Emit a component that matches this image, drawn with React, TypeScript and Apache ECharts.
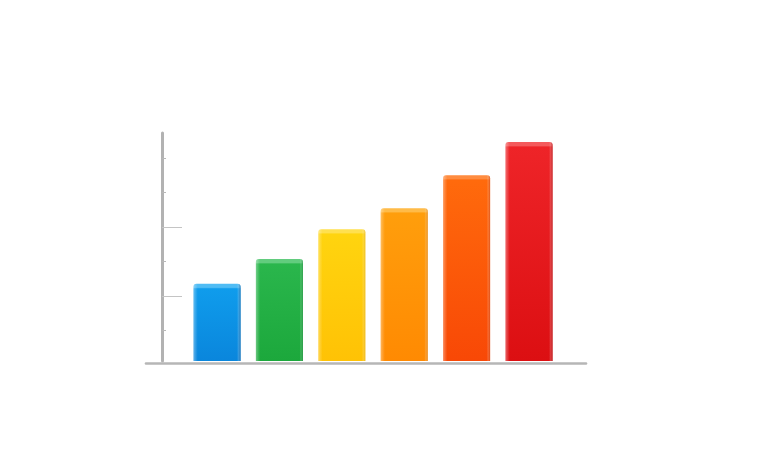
import React, { useEffect, useRef } from "react";
import * as echarts from "echarts";

const categories = ["A", "B", "C", "D", "E", "F"];
const values = [23.5, 30.7, 39.4, 45.5, 55.1, 64.7];
const majorTicks = [20, 40];
const minorTicks = [10, 30, 50, 60];
const topColors = ["#0f9cec", "#2ab64c", "#ffd40f", "#ff9e0c", "#ff6a0c", "#ee2428"];
const bottomColors = ["#0a86dc", "#1ca83c", "#ffc205", "#ff8a02", "#f84806", "#dc0f12"];
const capColors = ["#50bcf4", "#62cc7e", "#ffe04f", "#ffbb48", "#ff8c40", "#f45a5c"];
const edgeColors = ["rgba(4,90,160,0.75)", "rgba(14,125,45,0.55)", "rgba(225,170,20,0.6)", "rgba(215,125,20,0.6)", "rgba(200,60,10,0.6)", "rgba(170,10,12,0.7)"];

const axisMin = 1.08;
const axisMax = 67.35;
const gridHeight = 228;
const capHeight = 3.5;

function bodyGradient(i: number) {
  const barPx = ((values[i] - axisMin) / (axisMax - axisMin)) * gridHeight;
  const cap = capHeight / barPx;
  return new echarts.graphic.LinearGradient(0, 0, 0, 1, [
    { offset: 0, color: capColors[i] },
    { offset: cap, color: capColors[i] },
    { offset: cap * 1.4, color: topColors[i] },
    { offset: 1, color: bottomColors[i] },
  ]);
}

function edgeGradient(i: number) {
  return new echarts.graphic.LinearGradient(0, 0, 1, 0, [
    { offset: 0, color: "rgba(255,255,255,0.35)" },
    { offset: 0.05, color: "rgba(255,255,255,0.14)" },
    { offset: 0.09, color: "rgba(255,255,255,0)" },
    { offset: 0.93, color: "rgba(255,255,255,0)" },
    { offset: 1, color: edgeColors[i] },
  ]);
}

export default function App() {
  const ref = useRef<HTMLDivElement>(null);
  useEffect(() => {
    const chart = echarts.init(ref.current!, undefined, { renderer: "svg" });
    const yBase = {
      type: "value" as const,
      gridIndex: 0,
      position: "left" as const,
      min: axisMin,
      max: axisMax,
      offset: 23.8,
      axisLabel: { show: false },
      splitLine: { show: false },
    };
    chart.setOption({
      animation: false,
      backgroundColor: "#ffffff",
      grid: [
        { left: 185.8, width: 374.4, top: 133, height: gridHeight },
        { left: 146, width: 440, top: 133, height: 230.2 },
      ],
      xAxis: [
        {
          type: "category",
          gridIndex: 0,
          data: categories,
          axisLine: { show: false },
          axisTick: { show: false },
          axisLabel: { show: false },
        },
        {
          type: "value",
          gridIndex: 1,
          min: 0,
          max: 1,
          axisLine: { show: true, onZero: false, lineStyle: { color: "#b6b6b6", width: 2.6 } },
          axisTick: { show: false },
          axisLabel: { show: false },
          splitLine: { show: false },
        },
      ],
      yAxis: [
        {
          ...yBase,
          axisLine: { show: true, lineStyle: { color: "#b2b2b2", width: 3 } },
          axisTick: {
            show: true,
            inside: true,
            length: 20,
            customValues: majorTicks,
            lineStyle: { color: "#c4c4c4", width: 1 },
          },
        },
        {
          ...yBase,
          axisLine: { show: false },
          axisTick: {
            show: true,
            inside: true,
            length: 4,
            customValues: minorTicks,
            lineStyle: { color: "#b8b8b8", width: 1 },
          },
        },
        {
          type: "value",
          gridIndex: 1,
          min: 0,
          max: 1,
          show: false,
        },
      ],
      series: [
        {
          type: "bar",
          xAxisIndex: 0,
          yAxisIndex: 0,
          barWidth: 47,
          barGap: "-100%",
          silent: true,
          data: values.map((v, i) => ({
            value: v,
            itemStyle: {
              color: bodyGradient(i),
              borderRadius: [3, 3, 0, 0],
            },
          })),
        },
        {
          type: "bar",
          xAxisIndex: 0,
          yAxisIndex: 0,
          barWidth: 47,
          barGap: "-100%",
          silent: true,
          data: values.map((v, i) => ({
            value: v,
            itemStyle: {
              color: edgeGradient(i),
              borderRadius: [3, 3, 0, 0],
            },
          })),
        },
      ],
    });
    return () => chart.dispose();
  }, []);
  return (
    <div
      ref={ref}
      style={{ position: "fixed", left: 0, top: 0, width: 765, height: 461 }}
    />
  );
}
